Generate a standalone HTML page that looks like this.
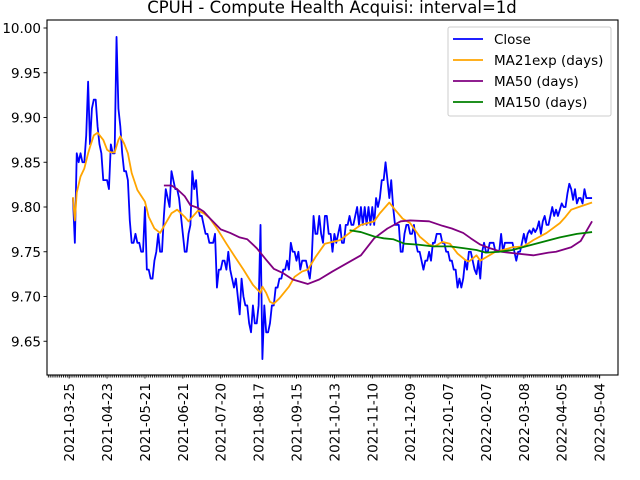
<!DOCTYPE html>
<html><head><meta charset="utf-8"><style>
html,body{margin:0;padding:0;background:#fff;}
svg{display:block;font-family:"DejaVu Sans","Liberation Sans",sans-serif;}
</style></head><body>
<svg id="chart" width="640" height="480" viewBox="0 0 640 480" xmlns="http://www.w3.org/2000/svg">
<text x="332" y="13" font-size="16.5" text-anchor="middle" fill="#000">CPUH - Compute Health Acquisi: interval=1d</text>
<g id="plot"></g>
<rect x="47" y="20" width="571" height="355" fill="none" stroke="#000" stroke-width="1.1"/>
<g>
<rect x="448" y="27" width="163" height="89" rx="2" fill="#fff" fill-opacity="0.8" stroke="#ccc"/>
<g><line x1="453" y1="39" x2="483" y2="39" stroke="#0000ff" stroke-width="1.8"/><text x="494" y="44" font-size="13.5">Close</text></g>
<g><line x1="453" y1="60" x2="483" y2="60" stroke="#ffa500" stroke-width="1.8"/><text x="494" y="65" font-size="13.5">MA21exp (days)</text></g>
<g><line x1="453" y1="81" x2="483" y2="81" stroke="#800080" stroke-width="1.8"/><text x="494" y="86" font-size="13.5">MA50 (days)</text></g>
<g><line x1="453" y1="102" x2="483" y2="102" stroke="#008000" stroke-width="1.8"/><text x="494" y="107" font-size="13.5">MA150 (days)</text></g>
</g>
</svg>
<script>
const closeValues = [9.81,9.76,9.86,9.85,9.86,9.85,9.85,9.88,9.94,9.87,9.91,9.92,9.92,9.89,9.87,9.86,9.83,9.83,9.83,9.82,9.87,9.86,9.86,9.99,9.91,9.89,9.86,9.84,9.84,9.83,9.785,9.76,9.76,9.77,9.76,9.76,9.75,9.75,9.80,9.73,9.73,9.72,9.72,9.74,9.75,9.77,9.75,9.75,9.79,9.82,9.81,9.80,9.84,9.83,9.82,9.82,9.81,9.79,9.77,9.75,9.75,9.77,9.78,9.84,9.82,9.83,9.80,9.79,9.79,9.78,9.77,9.77,9.76,
9.76,9.76,9.77,9.71,9.73,9.73,9.74,9.74,9.73,9.75,9.73,9.72,9.71,9.72,9.70,9.68,9.72,9.70,9.69,9.69,9.67,9.66,9.69,9.67,9.67,9.69,9.78,9.63,9.69,9.66,9.66,9.67,9.69,9.69,9.71,9.71,9.72,9.72,9.73,9.73,9.74,9.73,9.76,9.75,9.75,9.74,9.75,9.73,9.74,9.74,9.74,9.73,9.72,9.74,9.79,9.77,9.77,9.79,9.77,9.76,9.79,9.79,9.77,9.77,9.75,9.77,9.76,9.77,9.78,9.76,9.76,9.78,9.78,9.79,9.78,9.78,
9.79,9.80,9.78,9.80,9.78,9.80,9.78,9.80,9.78,9.80,9.78,9.81,9.80,9.81,9.83,9.83,9.85,9.83,9.81,9.83,9.80,9.78,9.78,9.78,9.75,9.75,9.77,9.78,9.78,9.77,9.77,9.78,9.76,9.75,9.75,9.74,9.73,9.74,9.74,9.75,9.74,9.76,9.76,9.77,9.77,9.77,9.76,9.76,9.75,9.75,9.74,9.74,9.73,9.73,9.71,9.72,9.71,9.72,9.74,9.73,9.75,9.75,9.74,9.73,9.725,
9.74,9.72,9.75,9.76,9.75,9.75,9.76,9.76,9.76,9.75,9.75,9.75,9.77,9.75,9.76,9.76,9.76,9.76,9.76,9.75,9.74,9.75,9.75,9.76,9.77,9.76,9.77,9.774,9.77,9.776,9.772,9.776,9.784,9.77,9.784,9.79,9.78,9.78,9.79,9.80,9.79,9.797,9.79,9.797,9.804,9.80,9.80,9.815,9.826,9.82,9.808,9.82,9.804,9.81,9.81,9.804,9.82,9.81,9.81,9.81,9.81];
const ma21Index = [0,1,2,4,6,8,9,11,13,16,18,20,22,24,25,27,29,31,34,38,40,43,46,49,52,55,59,61,66,69,72,76,81,85,90,95,99,100,102,104,106,109,114,117,121,124,128,133,137,141,146,152,159,162,167,170,174,178,183,188,191,195,199,203,207,209,213,215,219,223,227,232,238,243,250,257,260,263,267,274];
const ma21Values = [9.811,9.785,9.816,9.834,9.843,9.860,9.867,9.880,9.883,9.875,9.864,9.861,9.861,9.875,9.879,9.871,9.860,9.838,9.819,9.806,9.789,9.776,9.771,9.782,9.793,9.797,9.789,9.784,9.796,9.793,9.788,9.776,9.759,9.746,9.730,9.713,9.704,9.711,9.704,9.694,9.692,9.698,9.711,9.722,9.728,9.730,9.744,9.759,9.761,9.763,9.771,9.780,9.784,9.793,9.805,9.797,9.787,9.782,9.767,9.758,9.756,9.761,9.759,9.748,9.741,9.739,9.746,9.740,9.745,9.750,9.752,9.755,9.756,9.763,9.771,9.782,9.789,9.797,9.800,9.805];
const ma50Index = [48,52,55,59,62,66,69,72,78,83,88,92,97,102,106,111,116,124,130,137,147,152,159,166,173,178,188,195,200,206,210,215,220,226,234,243,251,255,263,268,274];
const ma50Values = [9.824,9.824,9.820,9.812,9.802,9.799,9.795,9.788,9.775,9.771,9.766,9.764,9.754,9.741,9.731,9.726,9.719,9.714,9.719,9.728,9.740,9.746,9.765,9.776,9.784,9.785,9.784,9.779,9.776,9.771,9.765,9.758,9.754,9.750,9.748,9.746,9.749,9.750,9.755,9.762,9.784];
const ma150Index = [146,152,159,164,169,175,182,190,199,206,213,218,225,232,239,248,257,266,274];
const ma150Values = [9.774,9.772,9.767,9.765,9.764,9.759,9.758,9.756,9.756,9.754,9.752,9.749,9.750,9.752,9.756,9.761,9.766,9.770,9.772];
const tickLabels = ["2021-03-25","2021-04-23","2021-05-21","2021-06-21","2021-07-20","2021-08-17","2021-09-15","2021-10-13","2021-11-10","2021-12-09","2022-01-07","2022-02-07","2022-03-08","2022-04-05","2022-05-04"];
const yTicks = [9.65,9.70,9.75,9.80,9.85,9.90,9.95,10.00];

const NS = "http://www.w3.org/2000/svg";
const svg = document.getElementById('chart');
const plot = document.getElementById('plot');
const AX_L = 47, AX_R = 618, AX_T = 20, AX_B = 375;
const nMax = closeValues.length - 1;
const pad = nMax * 0.05;
function xScale(i){ return AX_L + (i + pad) / (nMax + 2*pad) * (AX_R - AX_L); }
function yScale(v){ return 28 + (10 - v) / 0.05 * 44.75; }
function mk(tag, attrs){ const e = document.createElementNS(NS, tag); for (const k in attrs) e.setAttribute(k, attrs[k]); return e; }

function drawLine(idx, vals, color, name){
  const pts = vals.map((v,k)=> xScale(idx ? idx[k] : k).toFixed(2)+','+yScale(v).toFixed(2)).join(' ');
  const pl = mk('polyline', {points: pts, fill:'none', stroke: color, 'stroke-width':'1.8', 'stroke-linejoin':'round'});
  
  
  plot.appendChild(pl);
}
drawLine(null, closeValues, '#0000ff', 'close-line');
drawLine(ma21Index, ma21Values, '#ffa500', 'ma21exp-line');
drawLine(ma50Index, ma50Values, '#800080', 'ma50-line');
drawLine(ma150Index, ma150Values, '#008000', 'ma150-line');

yTicks.forEach(v=>{
  const y = yScale(v);
  const t = mk('line', {x1: AX_L-3.5, x2: AX_L, y1: y, y2: y, stroke:'#000', 'stroke-width':'0.9'});
  
  
  svg.appendChild(t);
  const lb = mk('text', {x: AX_L-6, y: y+5, 'font-size':'13.5', 'text-anchor':'end'});
  
  
  lb.textContent = v.toFixed(2);
  svg.appendChild(lb);
});

for (let i = -13; i <= nMax + 4; i++){
  const x = xScale(i);
  if (x < AX_L || x > 601) continue;
  const m = mk('line', {x1:x, x2:x, y1:AX_B, y2:AX_B+2.5, stroke:'#000', 'stroke-width':'0.9'});
  
  
  svg.appendChild(m);
}
tickLabels.forEach((lab,k)=>{
  const i = -2 + 20*k;
  const x = xScale(i);
  const t = mk('line', {x1:x, x2:x, y1:AX_B, y2:AX_B+3.5, stroke:'#000', 'stroke-width':'0.9'});
  
  
  svg.appendChild(t);
  const lb = mk('text', {x: 0, y: 0, 'font-size':'13.5', 'text-anchor':'end', transform:'translate('+(x+5)+','+(AX_B+8)+') rotate(-90)'});
  
  
  lb.textContent = lab;
  svg.appendChild(lb);
});
</script>
</body></html>
